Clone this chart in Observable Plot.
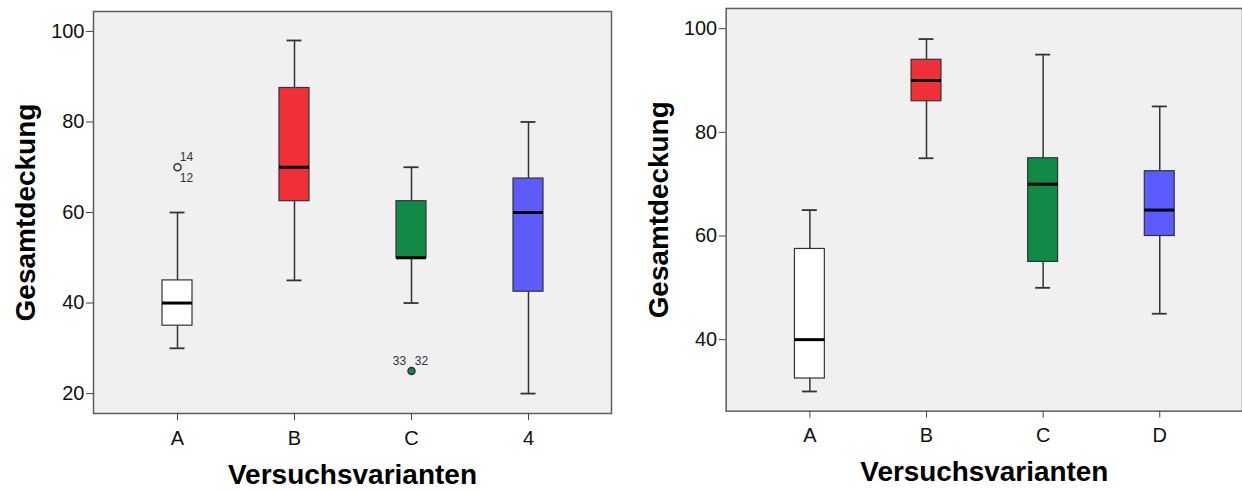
<!DOCTYPE html>
<html>
<head>
<meta charset="utf-8">
<script src="https://cdn.jsdelivr.net/npm/d3@7"></script>
<script src="https://cdn.jsdelivr.net/npm/@observablehq/plot@0.6"></script>
<style>
  html, body { margin: 0; padding: 0; background: #fff; overflow: hidden; }
  #wrap { display: flex; width: 1242px; height: 490px; overflow: hidden; }
  #left { width: 620px; height: 490px; }
  #right { width: 622px; height: 490px; overflow: hidden; }
  svg { font-family: "Liberation Sans", Arial, sans-serif; }
</style>
</head>
<body>
<div id="wrap"><div id="left"></div><div id="right"></div></div>
<script>
// ---- Data ----
const leftCategories = ["A", "B", "C", "4"];
const leftLow    = [30, 45, 40, 20];
const leftQ1     = [35, 62.5, 50, 42.5];
const leftMedian = [40, 70, 50, 60];
const leftQ3     = [45, 87.5, 62.5, 67.5];
const leftHigh   = [60, 98, 70, 80];

const rightCategories = ["A", "B", "C", "D"];
const rightLow    = [30, 75, 50, 45];
const rightQ1     = [32.5, 86, 55, 60];
const rightMedian = [40, 90, 70, 65];
const rightQ3     = [57.5, 94, 75, 72.5];
const rightHigh   = [65, 98, 95, 85];

const boxColors = ["#ffffff", "#ef3039", "#128a47", "#5b5bff"];

const leftOutlierCategory = ["A", "A", "C", "C"];
const leftOutlierValue    = [70, 70, 25, 25];
const leftOutlierId       = ["14", "12", "33", "32"];

const leftYTicks = [20, 40, 60, 80, 100];
const rightYTicks = [40, 60, 80, 100];
const xTitle = "Versuchsvarianten";
const yTitle = "Gesamtdeckung";

// ---- Styling helpers ----
const outlierFill = {A: "none", C: "#128a47"};
const labelOffset = {"14": [9, -10], "12": [9, 11], "33": [-12, -10], "32": [10, -10]};

function rows(cats, low, q1, med, q3, high) {
  return cats.map((c, i) => ({cat: c, low: low[i], q1: q1[i], med: med[i], q3: q3[i], high: high[i], color: boxColors[i]}));
}

function panel({data, cats, yDomain, yTicks, width, marginLeft, marginRight, marginTop, marginBottom, outliers}) {
  const marks = [
    Plot.frame({fill: "#f0f0f0", stroke: "#5e5e5e", strokeWidth: 1.5}),
    Plot.axisY({ticks: yTicks, tickSize: 7, tickPadding: 2, fontSize: 20, label: null, stroke: "#444", fill: "#111"}),
    Plot.axisX({tickSize: 7, tickPadding: 10, fontSize: 20, label: null, stroke: "#444", fill: "#111"}),
    Plot.ruleX(data, {x: "cat", y1: "low", y2: "high", stroke: "#333", strokeWidth: 1.5}),
    Plot.tickY(data, {x: "cat", y: "low", stroke: "#333", strokeWidth: 1.8, insetLeft: 7.5, insetRight: 7.5}),
    Plot.tickY(data, {x: "cat", y: "high", stroke: "#333", strokeWidth: 1.8, insetLeft: 7.5, insetRight: 7.5}),
    Plot.barY(data, {x: "cat", y1: "q1", y2: "q3", fill: "color", stroke: "#333", strokeWidth: 1.2}),
    Plot.tickY(data, {x: "cat", y: "med", stroke: "#000", strokeWidth: 3}),
    Plot.text([yTitle], {text: d => d, frameAnchor: "left", dx: -67, rotate: -90, fontSize: 28, fontWeight: "bold", fill: "#000", textAnchor: "middle", lineAnchor: "middle"}),
    Plot.text([xTitle], {text: d => d, frameAnchor: "bottom", dy: 70, lineAnchor: "bottom", fontSize: 28, fontWeight: "bold", fill: "#000"})
  ];
  if (outliers) {
    const pts = outliers.filter((d, i, a) => a.findIndex(e => e.cat === d.cat && e.v === d.v) === i);
    marks.push(Plot.dot(pts, {x: "cat", y: "v", r: 3.5, stroke: "#333", strokeWidth: 1.5, fill: d => outlierFill[d.cat] || "none"}));
    for (const o of outliers) {
      marks.push(Plot.text([o], {x: "cat", y: "v", text: "id", dx: labelOffset[o.id][0], dy: labelOffset[o.id][1], fontSize: 12, fill: "#333"}));
    }
  }
  return Plot.plot({
    width, height: 490,
    marginLeft, marginRight, marginTop, marginBottom,
    style: {fontFamily: "'Liberation Sans', Arial, sans-serif", background: "transparent", overflow: "visible"},
    x: {type: "band", domain: cats, paddingInner: 0.744, paddingOuter: 0.582, label: null},
    y: {domain: yDomain, label: null},
    color: {type: "identity"},
    marks
  });
}

const leftData = rows(leftCategories, leftLow, leftQ1, leftMedian, leftQ3, leftHigh);
const rightData = rows(rightCategories, rightLow, rightQ1, rightMedian, rightQ3, rightHigh);
const leftOutliers = leftOutlierCategory.map((c, i) => ({cat: c, v: leftOutlierValue[i], id: leftOutlierId[i]}));

document.getElementById("left").append(panel({
  data: leftData, cats: leftCategories, yDomain: [15.6, 104.4], yTicks: leftYTicks,
  width: 620, marginLeft: 93, marginRight: 9, marginTop: 11, marginBottom: 77,
  outliers: leftOutliers
}));
document.getElementById("right").append(panel({
  data: rightData, cats: rightCategories, yDomain: [26.2, 103.9], yTicks: rightYTicks,
  width: 624, marginLeft: 106, marginRight: 0, marginTop: 8, marginBottom: 78
}));
</script>
</body>
</html>
